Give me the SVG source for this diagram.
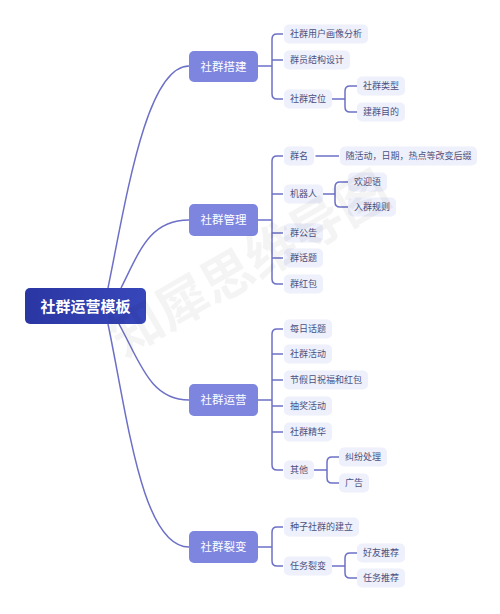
<svg xmlns="http://www.w3.org/2000/svg" width="500" height="614" viewBox="0 0 500 614">
<defs>
<linearGradient id="rootg" x1="0" y1="0" x2="1" y2="0">
<stop offset="0" stop-color="#2a36a2"/>
<stop offset="1" stop-color="#3746ba"/>
</linearGradient>
<style>
text{font-family:"Noto Sans CJK SC","Noto Sans",sans-serif;text-anchor:middle}
.root rect{fill:url(#rootg)}
.root text{fill:#fff;font-size:15px;font-weight:700}
.br rect{fill:#7d85df}
.br text{fill:#fff;font-size:11.5px}
.lf rect{fill:#eef0fb}
.lf text{fill:#4b5080;font-size:9px}
.con path{fill:none;stroke:#6c70c6;stroke-width:1.5}
.wm{font-size:52px;font-weight:700;fill:#000;fill-opacity:0.045}
</style>
</defs>
<rect width="500" height="614" fill="#fff"/>
<g class="con">
<path d="M108,288 C126,200 146,66 189,66"/>
<path d="M121,288 C140,250 150,220 189,220"/>
<path d="M119,324 C140,362 150,400 189,400"/>
<path d="M108,324 C128,420 142,547 189,547"/>
<path d="M258,66 H272 M283,34 H277 Q272,34 272,39 V94 Q272,99 277,99 H283 M272,60 H283"/>
<path d="M332,99 H345 M357,86 H350 Q345,86 345,91 V107 Q345,112 350,112 H357"/>
<path d="M258,220 H272 M283,156 H277 Q272,156 272,161 V279 Q272,284 277,284 H283 M272,194 H283 M272,233 H283 M272,258 H283"/>
<path d="M315.5,156 H339"/>
<path d="M322,194 H335 M348,182 H340 Q335,182 335,187 V202 Q335,207 340,207 H348"/>
<path d="M258,400 H272 M283,329 H277 Q272,329 272,334 V465 Q272,470 277,470 H283 M272,354 H283 M272,380 H283 M272,406 H283 M272,432 H283"/>
<path d="M313,470 H327 M339,457 H332 Q327,457 327,462 V478 Q327,483 332,483 H339"/>
<path d="M258,547 H272 M283,527 H277 Q272,527 272,532 V561 Q272,566 277,566 H283"/>
<path d="M332,566 H345 M357,553 H350 Q345,553 345,558 V573 Q345,578 350,578 H357"/>
</g>
<g id="root" class="root"><rect x="25" y="288" width="121" height="36" rx="5"/><text x="85.5" y="311.5">社群运营模板</text></g>
<g id="b1" class="br"><rect x="189" y="51" width="69" height="31" rx="5"/><text x="223.5" y="70.5">社群搭建</text></g>
<g id="b2" class="br"><rect x="189" y="204" width="69" height="32" rx="5"/><text x="223.5" y="224">社群管理</text></g>
<g id="b3" class="br"><rect x="189" y="384" width="69" height="32" rx="5"/><text x="223.5" y="404">社群运营</text></g>
<g id="b4" class="br"><rect x="189" y="531" width="69" height="32" rx="5"/><text x="223.5" y="551">社群裂变</text></g>
<g id="n11" class="lf"><rect x="284" y="24.5" width="84" height="19" rx="5"/><text x="326" y="37.2">社群用户画像分析</text></g>
<g id="n12" class="lf"><rect x="284" y="50.5" width="66" height="19" rx="5"/><text x="317" y="63.2">群员结构设计</text></g>
<g id="n13" class="lf"><rect x="284" y="89.5" width="48" height="19" rx="5"/><text x="308" y="102.2">社群定位</text></g>
<g id="n131" class="lf"><rect x="357" y="76.5" width="48" height="19" rx="5"/><text x="381" y="89.2">社群类型</text></g>
<g id="n132" class="lf"><rect x="357" y="102.5" width="48" height="19" rx="5"/><text x="381" y="115.2">建群目的</text></g>
<g id="n21" class="lf"><rect x="284" y="146.5" width="30" height="19" rx="5"/><text x="299" y="159.2">群名</text></g>
<g id="n211" class="lf"><rect x="340" y="146.5" width="137" height="19" rx="5"/><text x="408.5" y="159.2">随活动，日期，热点等改变后缀</text></g>
<g id="n22" class="lf"><rect x="284" y="184.5" width="39" height="19" rx="5"/><text x="303.5" y="197.2">机器人</text></g>
<g id="n221" class="lf"><rect x="348" y="172.5" width="39" height="19" rx="5"/><text x="367.5" y="185.2">欢迎语</text></g>
<g id="n222" class="lf"><rect x="348" y="197.5" width="48" height="19" rx="5"/><text x="372" y="210.2">入群规则</text></g>
<g id="n23" class="lf"><rect x="284" y="223.5" width="39" height="19" rx="5"/><text x="303.5" y="236.2">群公告</text></g>
<g id="n24" class="lf"><rect x="284" y="248.5" width="39" height="19" rx="5"/><text x="303.5" y="261.2">群话题</text></g>
<g id="n25" class="lf"><rect x="284" y="274.5" width="39" height="19" rx="5"/><text x="303.5" y="287.2">群红包</text></g>
<g id="n31" class="lf"><rect x="284" y="319.5" width="48" height="19" rx="5"/><text x="308" y="332.2">每日话题</text></g>
<g id="n32" class="lf"><rect x="284" y="344.5" width="48" height="19" rx="5"/><text x="308" y="357.2">社群活动</text></g>
<g id="n33" class="lf"><rect x="284" y="370.5" width="84" height="19" rx="5"/><text x="326" y="383.2">节假日祝福和红包</text></g>
<g id="n34" class="lf"><rect x="284" y="396.5" width="48" height="19" rx="5"/><text x="308" y="409.2">抽奖活动</text></g>
<g id="n35" class="lf"><rect x="284" y="422.5" width="48" height="19" rx="5"/><text x="308" y="435.2">社群精华</text></g>
<g id="n36" class="lf"><rect x="284" y="460.5" width="30" height="19" rx="5"/><text x="299" y="473.2">其他</text></g>
<g id="n361" class="lf"><rect x="339" y="447.5" width="48" height="19" rx="5"/><text x="363" y="460.2">纠纷处理</text></g>
<g id="n362" class="lf"><rect x="339" y="473.5" width="30" height="19" rx="5"/><text x="354" y="486.2">广告</text></g>
<g id="n41" class="lf"><rect x="284" y="517.5" width="75" height="19" rx="5"/><text x="321.5" y="530.2">种子社群的建立</text></g>
<g id="n42" class="lf"><rect x="284" y="556.5" width="48" height="19" rx="5"/><text x="308" y="569.2">任务裂变</text></g>
<g id="n421" class="lf"><rect x="357" y="543.5" width="48" height="19" rx="5"/><text x="381" y="556.2">好友推荐</text></g>
<g id="n422" class="lf"><rect x="357" y="568.5" width="48" height="19" rx="5"/><text x="381" y="581.2">任务推荐</text></g>
<text class="wm" x="250" y="282" transform="rotate(-30 250 264)">知犀思维导图</text>
</svg>
